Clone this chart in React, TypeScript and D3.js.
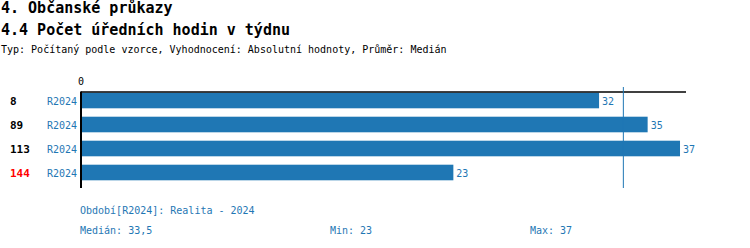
import React from "react";
import * as d3 from "d3";

const title1 = "4. Občanské průkazy";
const title2 = "4.4 Počet úředních hodin v týdnu";
const subtitle = "Typ: Počítaný podle vzorce, Vyhodnocení: Absolutní hodnoty, Průměr: Medián";
const categories = ["8", "89", "113", "144"];
const highlighted = ["144"];
const periods = ["R2024", "R2024", "R2024", "R2024"];
const values = [32, 35, 37, 23];
const medianValue = 33.5;
const minValue = 23;
const maxValue = 37;
const periodNote = "Období[R2024]: Realita - 2024";

const BLUE = "#1f77b4";
const MONO = "'DejaVu Sans Mono', 'Liberation Mono', monospace";

export default function App() {
  const x = d3.scaleLinear().domain([0, 37.37]).range([81, 686]);
  const y = d3
    .scaleBand<string>()
    .domain(categories)
    .range([88.5, 184.5])
    .paddingInner(0.35)
    .paddingOuter(0.175);
  const bw = y.bandwidth();
  const fmt = (v: number) => String(v).replace(".", ",");

  return (
    <svg
      width={750}
      height={248}
      style={{ position: "absolute", left: 0, top: 0, background: "#fff" }}
      fontFamily={MONO}
    >
      <text x={1} y={13} fontSize={15} fontWeight="bold" fill="#000">{title1}</text>
      <text x={1} y={35} fontSize={15} fontWeight="bold" fill="#000">{title2}</text>
      <text x={1} y={53} fontSize={10} fill="#000">{subtitle}</text>

      {/* tick 0 */}
      <text x={x(0)} y={85} fontSize={10} textAnchor="middle" fill="#000">0</text>

      {categories.map((c, i) => {
        const yy = y(c)!;
        return (
          <g key={c}>
            <rect x={x(0)} y={yy} width={x(values[i]) - x(0)} height={bw} fill={BLUE} />
            <text x={x(values[i]) + 3} y={yy + bw / 2 + 4} fontSize={10} fill={BLUE}>
              {values[i]}
            </text>
            <text
              x={10}
              y={yy + bw / 2 + 4}
              fontSize={11}
              fontWeight="bold"
              fill={highlighted.includes(c) ? "#ff0000" : "#000"}
            >
              {c}
            </text>
            <text x={77} y={yy + bw / 2 + 4} fontSize={10} textAnchor="end" fill={BLUE}>
              {periods[i]}
            </text>
          </g>
        );
      })}

      {/* axes */}
      <line x1={x(0)} x2={x.range()[1]} y1={92} y2={92} stroke="#000" strokeWidth={1.5} />
      <line x1={x(0)} x2={x(0)} y1={91.5} y2={188} stroke="#000" strokeWidth={2} />
      {/* median line */}
      <line x1={x(medianValue)} x2={x(medianValue)} y1={87} y2={188} stroke={BLUE} strokeWidth={1} />

      <text x={80} y={214} fontSize={10} fill={BLUE}>{periodNote}</text>
      <text x={80} y={234} fontSize={10} fill={BLUE}>{"Medián: " + fmt(medianValue)}</text>
      <text x={330} y={234} fontSize={10} fill={BLUE}>{"Min: " + fmt(minValue)}</text>
      <text x={530} y={234} fontSize={10} fill={BLUE}>{"Max: " + fmt(maxValue)}</text>
    </svg>
  );
}
